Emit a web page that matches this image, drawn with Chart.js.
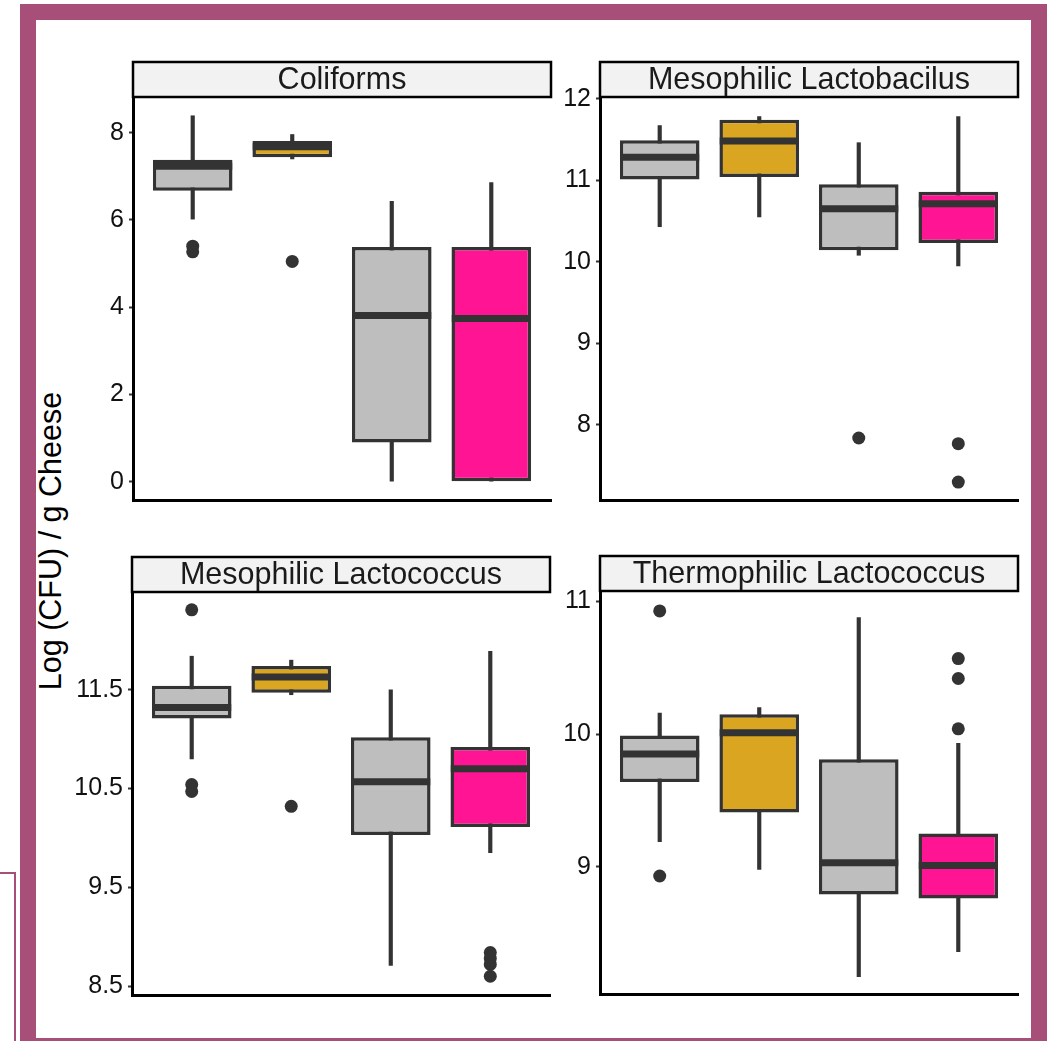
<!DOCTYPE html>
<html>
<head>
<meta charset="utf-8">
<script src="https://cdn.jsdelivr.net/npm/chart.js@4/dist/chart.umd.min.js"></script>
<style>
  body { margin: 0; background: #fff; width: 1051px; height: 1041px; overflow: hidden; position: relative; font-family: "Liberation Sans", Arial, sans-serif; }
  .frame { position: absolute; left: 20px; top: 4px; width: 1027px; height: 1050px; border: 16px solid #A84F79; box-sizing: border-box; }
  .stub { position: absolute; left: -4px; top: 872px; width: 18px; height: 200px; border-top: 2px solid #A84F79; border-right: 2px solid #A84F79; }
  canvas { position: absolute; }
  .ytitle { position: absolute; left: -150px; top: 524px; width: 400px; height: 34px; line-height: 34px; text-align: center; font-size: 30.5px; color: #000; transform: rotate(-90deg); }
</style>
</head>
<body>
<div class="stub"></div>
<div class="frame"></div>
<div class="ytitle">Log (CFU) / g Cheese</div>
<canvas id="painel1" width="497" height="465" style="left:60px; top:55px"></canvas>
<canvas id="painel2" width="497" height="465" style="left:527px; top:55px"></canvas>
<canvas id="painel3" width="497" height="465" style="left:59px; top:550px"></canvas>
<canvas id="painel4" width="497" height="465" style="left:527px; top:549px"></canvas>
<script>
// groups on the x axis (no labels shown in the figure)
const groups = [1, 2, 3, 4];
const panelTitles = ['Coliforms', 'Mesophilic Lactobacilus', 'Mesophilic Lactococcus', 'Thermophilic Lactococcus'];

// Coliforms
const colLow = [6.02, 7.40, 0.00, 0.00];
const colQ1 = [6.67, 7.44, 0.90, 0.00];
const colMedian = [7.23, 7.68, 3.81, 3.74];
const colQ3 = [7.38, 7.81, 5.38, 5.38];
const colHigh = [8.39, 7.96, 6.43, 6.86];
const colOutliers = [[5.40, 5.27], [5.05], [], []];
const colTicks = [0, 2, 4, 6, 8];

// Mesophilic Lactobacilus
const lbLow = [10.43, 10.55, 10.08, 9.95];
const lbQ1 = [11.01, 11.04, 10.14, 10.23];
const lbMedian = [11.28, 11.48, 10.65, 10.71];
const lbQ3 = [11.49, 11.74, 10.95, 10.86];
const lbHigh = [11.67, 11.78, 11.46, 11.78];
const lbOutliers = [[], [], [7.84], [7.77, 7.30]];
const lbTicks = [8, 9, 10, 11, 12];

// Mesophilic Lactococcus
const mlLow = [10.80, 11.45, 8.71, 9.85];
const mlQ1 = [11.21, 11.47, 10.03, 10.11];
const mlMedian = [11.32, 11.63, 10.57, 10.70];
const mlQ3 = [11.54, 11.74, 11.02, 10.92];
const mlHigh = [11.84, 11.80, 11.50, 11.89];
const mlOutliers = [[12.31, 10.54, 10.47], [10.32], [], [8.84, 8.78, 8.72, 8.60]];
const mlTicks = [8.5, 9.5, 10.5, 11.5];

// Thermophilic Lactococcus
const tlLow = [9.19, 8.98, 8.17, 8.36];
const tlQ1 = [9.64, 9.41, 8.79, 8.76];
const tlMedian = [9.85, 10.01, 9.03, 9.01];
const tlQ3 = [9.99, 10.15, 9.81, 9.25];
const tlHigh = [10.16, 10.20, 10.88, 9.93];
const tlOutliers = [[10.93, 8.93], [], [], [10.57, 10.42, 10.04]];
const tlTicks = [9, 10, 11];

const boxFill = ['#BEBEBE', '#DAA520', '#BEBEBE', '#FF1493'];
const darkGray = '#333333';

Chart.defaults.font.family = '"Liberation Sans", Arial, sans-serif';

// gray strip with the panel name above the plot area
const stripPlugin = {
    id: 'strip',
    afterDraw(chart, args, opts) {
        const { ctx, chartArea } = chart;
        const h = 35;
        const w = chartArea.right - chartArea.left;
        ctx.save();
        ctx.fillStyle = '#F2F2F2';
        ctx.fillRect(chartArea.left, chartArea.top - h, w, h);
        ctx.strokeStyle = '#000';
        ctx.lineWidth = 2.5;
        ctx.strokeRect(chartArea.left, chartArea.top - h, w, h);
        ctx.fillStyle = '#1A1A1A';
        ctx.font = '30.5px "Liberation Sans", Arial, sans-serif';
        ctx.textAlign = 'center';
        ctx.textBaseline = 'middle';
        ctx.fillText(opts.text, chartArea.left + w / 2, chartArea.top - h / 2 + 1);
        ctx.restore();
    }
};

function gerarPainel(id, title, low, q1, median, q3, high, outliers, ticks, yMin, yMax) {
    const ctx = document.getElementById(id).getContext('2d');

    const outlierPoints = [];
    outliers.forEach((vals, i) => {
        vals.forEach(v => outlierPoints.push({ x: groups[i], y: v }));
    });

    new Chart(ctx, {
        type: 'bar',
        data: {
            datasets: [
                {
                    // whiskers
                    type: 'bar',
                    data: groups.map((g, i) => ({ x: g, y: [low[i], high[i]] })),
                    backgroundColor: darkGray,
                    borderWidth: 0,
                    barThickness: 3.5,
                    grouped: false,
                    order: 4
                },
                {
                    // boxes
                    type: 'bar',
                    data: groups.map((g, i) => ({ x: g, y: [q1[i], q3[i]] })),
                    backgroundColor: boxFill,
                    borderColor: darkGray,
                    borderWidth: 3.5,
                    borderSkipped: false,
                    categoryPercentage: 1,
                    barPercentage: 0.8,
                    grouped: false,
                    order: 3
                },
                {
                    // medians
                    type: 'line',
                    data: groups.map((g, i) => ({ x: g, y: median[i] })),
                    showLine: false,
                    pointStyle: 'line',
                    pointRadius: 39.5,
                    pointBorderWidth: 7,
                    pointBorderColor: darkGray,
                    order: 2
                },
                {
                    // outliers
                    type: 'line',
                    data: outlierPoints,
                    showLine: false,
                    pointRadius: 6.5,
                    pointBackgroundColor: darkGray,
                    pointBorderWidth: 0,
                    order: 1
                }
            ]
        },
        options: {
            responsive: false,
            animation: false,
            devicePixelRatio: 1,
            layout: { autoPadding: false, padding: { left: 0, right: 6, top: 42, bottom: 11 } },
            scales: {
                x: {
                    type: 'linear',
                    min: 0.4,
                    max: 4.6,
                    offset: false,
                    grid: { display: false },
                    ticks: { display: false },
                    border: { display: true, color: '#000', width: 3 },
                    afterBuildTicks: s => { s.ticks = groups.map(v => ({ value: v })); },
                    afterFit: s => { s.height = 0; }
                },
                y: {
                    min: yMin,
                    max: yMax,
                    grid: { drawOnChartArea: false, drawTicks: true, tickLength: 4, tickColor: darkGray, tickWidth: 2 },
                    border: { display: true, color: '#000', width: 3 },
                    ticks: {
                        color: '#111',
                        padding: 5,
                        font: { size: 25 },
                        callback: v => String(v)
                    },
                    afterBuildTicks: s => { s.ticks = ticks.map(v => ({ value: v })); },
                    afterFit: s => { s.width = 73; }
                }
            },
            plugins: {
                legend: { display: false },
                tooltip: { enabled: false },
                strip: { text: title }
            }
        },
        plugins: [stripPlugin]
    });
}

gerarPainel('painel1', panelTitles[0], colLow, colQ1, colMedian, colQ3, colHigh, colOutliers, colTicks, -0.42, 8.82);
gerarPainel('painel2', panelTitles[1], lbLow, lbQ1, lbMedian, lbQ3, lbHigh, lbOutliers, lbTicks, 7.08, 12.02);
gerarPainel('painel3', panelTitles[2], mlLow, mlQ1, mlMedian, mlQ3, mlHigh, mlOutliers, mlTicks, 8.41, 12.49);
gerarPainel('painel4', panelTitles[3], tlLow, tlQ1, tlMedian, tlQ3, tlHigh, tlOutliers, tlTicks, 8.04, 11.08);
</script>
</body>
</html>
